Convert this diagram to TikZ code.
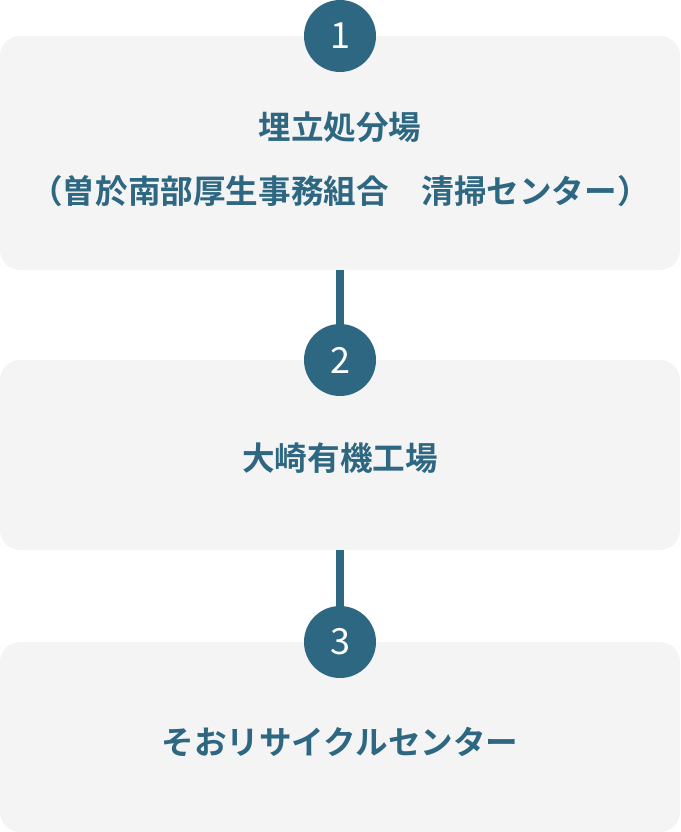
\documentclass[tikz,border=0pt]{standalone}
\usepackage{fontspec}
\setmainfont{Noto Sans CJK JP}
\newfontfamily\jpbold{Noto Sans CJK JP Bold}
\definecolor{teal}{HTML}{2E6782}
\definecolor{boxgray}{HTML}{F4F4F4}
\begin{document}
\begin{tikzpicture}[x=1pt,y=-1pt,
  panel/.style={fill=boxgray,rounded corners=20pt},
  badge/.style={circle,fill=teal,minimum size=72pt,inner sep=0pt,text=white,font=\fontsize{36}{36}\selectfont},
  label/.style={text=teal,font=\jpbold\fontsize{32.6}{32.6}\selectfont,inner sep=0pt},
  link/.style={draw=teal,line width=8pt}]
\useasboundingbox (0,0) rectangle (680,832);
\fill[panel] (0,36) rectangle (680,270);
\fill[panel] (0,360) rectangle (680,550);
\fill[panel] (0,642) rectangle (680,832);
\coordinate (b1) at (340,270);
\coordinate (b2) at (340,550);
\node[badge] (c1) at (340,36) {1};
\node[badge] (c2) at (340,360) {2};
\node[badge] (c3) at (340,642) {3};
\draw[link] (b1) -- (c2.north);
\draw[link] (b2) -- (c3.north);
\node[label] (t1) at (340,127) {埋立処分場};
\node[label] (t2) at (340,191.5) {（曽於南部厚生事務組合　清掃センター）};
\node[label] (t3) at (340,458) {大崎有機工場};
\node[label] (t4) at (340,742) {そおリサイクルセンター};
\end{tikzpicture}
\end{document}
